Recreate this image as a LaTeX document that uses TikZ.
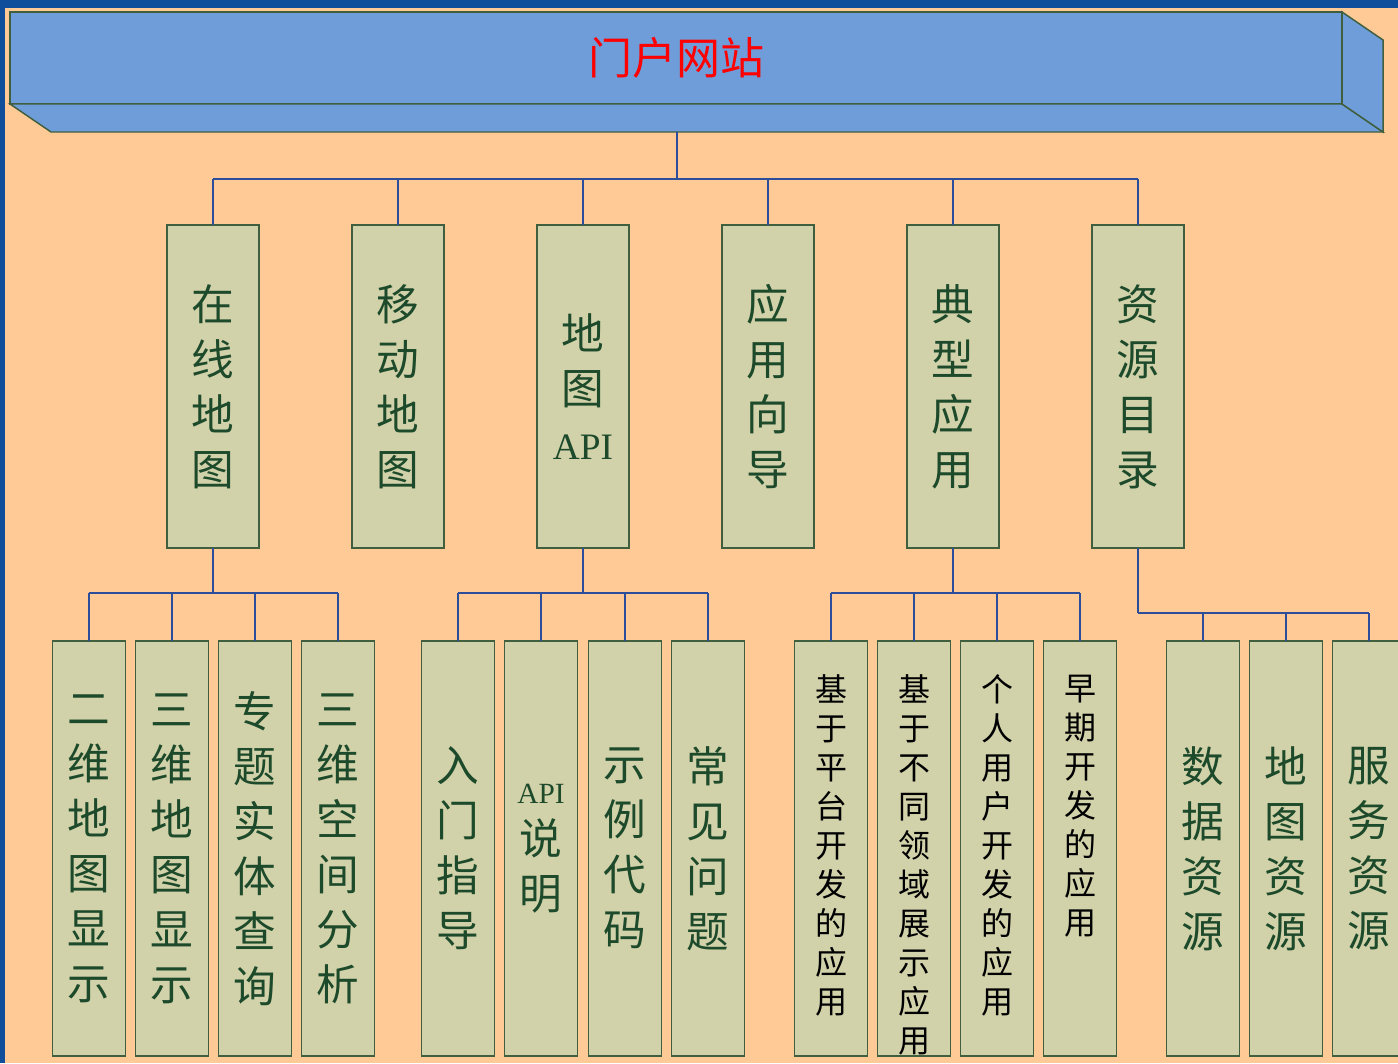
\documentclass[tikz,border=0pt]{standalone}
\usepackage{fontspec}
\newfontfamily\cjk{Noto Sans CJK SC}
\newfontfamily\latinf{Liberation Serif}
\definecolor{bgblue}{HTML}{0E4E9A}
\definecolor{peach}{HTML}{FFCA96}
\definecolor{topblue}{HTML}{6F9DD9}
\definecolor{boxfill}{HTML}{D2D2AA}
\definecolor{boxdraw}{HTML}{3F5F3F}
\definecolor{textgreen}{HTML}{1D4A2A}
\definecolor{connblue}{HTML}{2C4E9A}
\begin{document}
\begin{tikzpicture}[x=0.75pt,y=-0.75pt,
  topbox/.style={draw=boxdraw,fill=topblue,line width=1.1pt,line join=miter},
  topfront/.style={topbox,minimum width=999pt,minimum height=69pt,inner sep=0pt,outer sep=0pt,
    text=red,font=\cjk\fontsize{33}{40}\selectfont},
  lonebox/.style={draw=boxdraw,fill=boxfill,line width=0.9pt,minimum width=69pt,minimum height=242.25pt,
    inner sep=0pt,outer sep=0pt,align=center,text=textgreen,font=\cjk\fontsize{32}{41.25}\selectfont},
  ltwobox/.style={draw=boxdraw,fill=boxfill,line width=0.9pt,minimum width=54.75pt,minimum height=311.25pt,
    inner sep=0pt,outer sep=0pt,align=center,text=textgreen,font=\cjk\fontsize{32}{41.25}\selectfont},
  smalltext/.style={inner sep=0pt,outer sep=0pt,align=center,text=black,anchor=north,
    font=\cjk\fontsize{24}{29.25}\selectfont},
  conn/.style={draw=connblue,line width=0.8pt}]
\useasboundingbox (0,0) rectangle (1398,1063);
\clip (0,0) rectangle (1398,1063);
\fill[bgblue] (0,0) rectangle (1398,1063);
\fill[peach] (5,8) rectangle (1398,1063);

% top 3D box
\node[topfront] (title) at (676,58) {门户网站};
\filldraw[topbox] (title.south west) -- (51,132) -- (1383,132) -- (title.south east) -- cycle;
\filldraw[topbox] (title.north east) -- (1383,40) -- (1383,132) -- (title.south east) -- cycle;
\coordinate (titlebase) at (677,132);
\coordinate (busA) at (677,179);

% level 1
\node[lonebox] (a1) at (213,386.5) {在\\线\\地\\图};
\node[lonebox] (a2) at (398,386.5) {移\\动\\地\\图};
\node[lonebox] (a3) at (583,386.5) {地\\图\\{\latinf\fontsize{28}{30}\selectfont API}};
\node[lonebox] (a4) at (768,386.5) {应\\用\\向\\导};
\node[lonebox] (a5) at (953,386.5) {典\\型\\应\\用};
\node[lonebox] (a6) at (1138,386.5) {资\\源\\目\\录};

\draw[conn] (titlebase) -- (busA);
\draw[conn] (a1.north |- busA) -- (a6.north |- busA);
\foreach \n in {a1,a2,a3,a4,a5,a6} \draw[conn] (\n.north) -- (\n.north |- busA);

% level 2 : 在线地图
\node[ltwobox] (b1) at (89,848.5) {二\\维\\地\\图\\显\\示};
\node[ltwobox] (b2) at (172,848.5) {三\\维\\地\\图\\显\\示};
\node[ltwobox] (b3) at (255,848.5) {专\\题\\实\\体\\查\\询};
\node[ltwobox] (b4) at (338,848.5) {三\\维\\空\\间\\分\\析};
\coordinate (busB) at (213,593);
\draw[conn] (a1.south) -- (busB);
\draw[conn] (b1.north |- busB) -- (b4.north |- busB);
\foreach \n in {b1,b2,b3,b4} \draw[conn] (\n.north) -- (\n.north |- busB);

% level 2 : 地图API
\node[ltwobox] (c1) at (458,848.5) {入\\门\\指\\导};
\node[ltwobox] (c2) at (541,848.5) {{\latinf\fontsize{22}{26}\selectfont API}\\[-3pt]说\\明};
\node[ltwobox] (c3) at (625,848.5) {示\\例\\代\\码};
\node[ltwobox] (c4) at (708,848.5) {常\\见\\问\\题};
\coordinate (busC) at (583,593);
\draw[conn] (a3.south) -- (busC);
\draw[conn] (c1.north |- busC) -- (c4.north |- busC);
\foreach \n in {c1,c2,c3,c4} \draw[conn] (\n.north) -- (\n.north |- busC);

% level 2 : 典型应用
\node[ltwobox] (d1) at (831,848.5) {};
\node[ltwobox] (d2) at (914,848.5) {};
\node[ltwobox] (d3) at (997,848.5) {};
\node[ltwobox] (d4) at (1080,848.5) {};
\node[smalltext] (t1) at (831,675) {基\\于\\平\\台\\开\\发\\的\\应\\用};
\begin{scope}
\clip (d2.south west) rectangle (d2.north east);
\node[smalltext] (t2) at (914,675) {基\\于\\不\\同\\领\\域\\展\\示\\应\\用};
\end{scope}
\node[smalltext] (t3) at (997,675) {个\\人\\用\\户\\开\\发\\的\\应\\用};
\node[smalltext] (t4) at (1080,675) {早\\期\\开\\发\\的\\应\\用};
\coordinate (busD) at (953,593);
\draw[conn] (a5.south) -- (busD);
\draw[conn] (d1.north |- busD) -- (d4.north |- busD);
\foreach \n in {d1,d2,d3,d4} \draw[conn] (\n.north) -- (\n.north |- busD);

% level 2 : 资源目录
\node[ltwobox] (e1) at (1203,848.5) {数\\据\\资\\源};
\node[ltwobox] (e2) at (1286,848.5) {地\\图\\资\\源};
\node[ltwobox] (e3) at (1369,848.5) {服\\务\\资\\源};
\coordinate (busE) at (1138,613);
\draw[conn] (a6.south) -- (busE);
\draw[conn] (busE) -- (e3.north |- busE);
\foreach \n in {e1,e2,e3} \draw[conn] (\n.north) -- (\n.north |- busE);
\end{tikzpicture}
\end{document}
